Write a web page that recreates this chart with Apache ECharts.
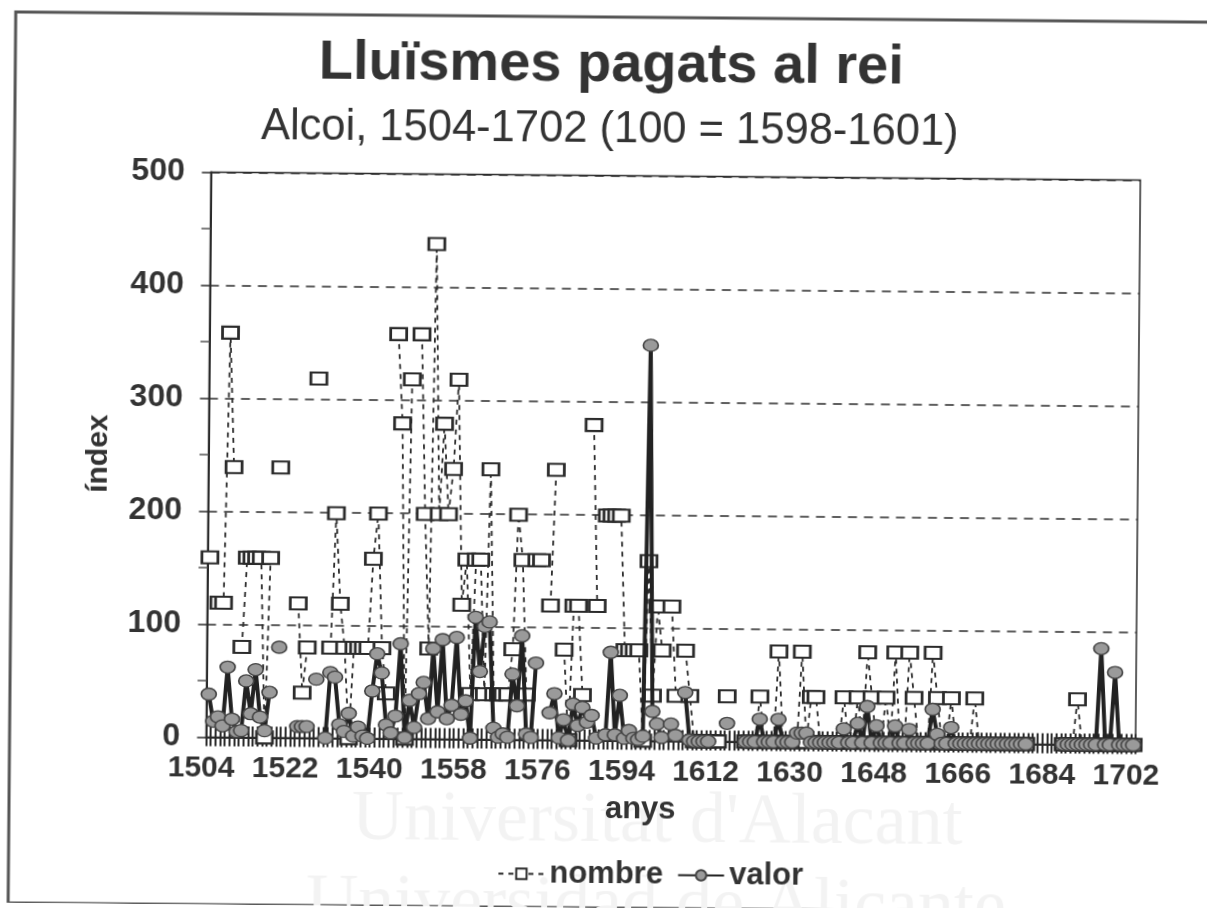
<!DOCTYPE html>
<html><head><meta charset="utf-8">
<style>html,body{margin:0;padding:0;background:#fff;overflow:hidden;width:1207px;height:908px}
#c{width:1207px;height:908px;transform:rotate(0.49deg);transform-origin:603px 454px}</style>
<script src="https://cdn.jsdelivr.net/npm/echarts@6/dist/echarts.min.js"></script>
</head><body><div id="c"></div>
<script>
const N = null;
const firstYear = 1504;
const nombre = [
 159,N,119,119,358,239,N,80,159,159,
 159,159,0,159,N,239,N,N,N,119,
 40,80,N,318,N,N,80,199,119,80,
 0,80,80,80,80,159,199,80,40,N,
 358,279,0,318,N,358,199,80,438,199,
 279,199,239,318,119,159,40,159,159,40,
 239,40,40,40,40,80,199,159,40,N,
 159,159,N,119,239,N,80,0,119,119,
 40,N,279,119,N,199,199,199,199,80,
 80,80,80,0,159,40,119,80,N,119,
 40,N,80,40,0,0,0,0,0,0,
 N,40,N,N,N,0,0,0,40,0,
 0,0,80,0,0,0,0,80,0,40,
 40,0,0,0,0,0,40,0,0,40,
 0,80,40,0,0,40,0,80,0,0,
 80,40,0,0,0,80,40,0,0,40,
 0,0,0,0,40,0,0,0,0,0,
 0,0,0,0,0,0,N,N,N,N,
 N,N,N,0,0,0,40,0,0,0,
 0,0,0,0,0,0,0,0,0];
const valor = [
 38,14,18,10,62,16,5,6,50,21,
 60,18,6,40,N,80,N,N,N,10,
 10,10,N,52,N,0,58,54,12,6,
 22,2,10,2,0,42,75,58,12,5,
 20,84,1,34,10,40,50,18,80,24,
 88,18,30,90,22,34,1,108,60,100,
 104,10,2,5,2,58,30,92,5,2,
 68,N,N,24,41,2,18,0,32,13,
 29,16,22,2,N,5,78,5,40,2,
 9,2,1,4,350,26,15,3,N,15,
 5,N,43,1,0,0,0,0,N,N,
 N,16,N,N,N,0,0,0,20,0,
 0,0,20,0,0,0,8,8,8,0,
 0,0,0,0,0,0,12,0,0,17,
 0,32,0,15,0,0,0,15,0,0,
 12,0,0,0,0,30,8,0,0,14,
 0,0,0,0,0,0,0,0,0,0,
 0,0,0,0,0,0,N,N,N,N,
 N,N,N,0,0,0,0,0,0,0,
 0,85,0,0,64,0,0,0,0];
const years = nombre.map((_, i) => String(firstYear + i));
const ink = '#2b2b2b';
const font = '"Liberation Sans", Arial, sans-serif';

const chart = echarts.init(document.getElementById('c'), null, {renderer:'canvas'});
chart.setOption({
  animation:false,
  backgroundColor:'#fff',
  title:[
    {text:'Lluïsmes pagats al rei', left:603, top:33, textAlign:'center',
     textStyle:{fontFamily:font,fontSize:56,fontWeight:'bold',color:'#333'}},
    {text:'Alcoi, 1504-1702 (100 = 1598-1601)', left:602, top:103, textAlign:'center',
     textStyle:{fontFamily:font,fontSize:43.5,fontWeight:'normal',color:'#333'}}
  ],
  legend:{
    data:['nombre','valor'], left:496, top:854, itemWidth:46, itemHeight:13, itemGap:14,
    textStyle:{fontFamily:font,fontSize:31,fontWeight:'bold',color:'#333'}
  },
  grid:{left:208.5,top:175.4,width:929.5,height:565,show:true,borderColor:ink,borderWidth:1.5,backgroundColor:'transparent'},
  xAxis:[
    {type:'category',data:years,boundaryGap:true,
     name:'anys',nameLocation:'middle',nameGap:54,
     nameTextStyle:{fontFamily:font,fontSize:31,fontWeight:'bold',color:'#333',padding:[0,60,0,0]},
     axisLine:{lineStyle:{color:ink,width:2}},
     axisTick:{show:true,interval:0,length:9,lineStyle:{color:ink,width:2}},
     axisLabel:{interval:17,margin:16,fontFamily:font,fontSize:30,fontWeight:'bold',color:'#333',padding:[0,14,0,0],hideOverlap:false},
     splitLine:{show:false}},
    {type:'category',data:years,boundaryGap:true,position:'bottom',
     axisLine:{show:false},
     axisTick:{show:true,inside:true,interval:0,length:11,lineStyle:{color:ink,width:2}},
     axisLabel:{show:false},splitLine:{show:false}}
  ],
  yAxis:{type:'value',min:0,max:500,interval:100,
    name:'índex',nameLocation:'middle',nameGap:95,
    nameTextStyle:{fontFamily:font,fontSize:30,fontWeight:'bold',color:'#333'},
    axisLine:{show:true,lineStyle:{color:ink,width:2}},
    axisTick:{show:true,length:9,lineStyle:{color:ink,width:1.5}},
    minorTick:{show:true,splitNumber:2,length:9,lineStyle:{color:'#555',width:1.5}},
    axisLabel:{margin:26,fontFamily:font,fontSize:32,fontWeight:'bold',color:'#333'},
    splitLine:{show:true,lineStyle:{color:ink,width:1.5,type:[9,7]}}
  },
  graphic:[
    {type:'rect',z:-10,shape:{x:12,y:17,width:1400,height:891},style:{fill:'none',stroke:'#555',lineWidth:3}},
    {type:'text',z:-9,left:355,top:786,style:{text:"Universitat d'Alacant",font:'72px "Liberation Serif", serif',fill:'#f3f3f3'}},
    {type:'text',z:-9,left:310,top:870,style:{text:'Universidad de Alicante',font:'72px "Liberation Serif", serif',fill:'#f3f3f3'}}
  ],
  series:[
    {name:'nombre',type:'line',data:nombre,connectNulls:false,showAllSymbol:true,
     symbol:'rect',symbolSize:[16,12],
     lineStyle:{color:ink,width:1.8,type:[5,5]},
     itemStyle:{color:'#fff',borderColor:ink,borderWidth:2.4},z:3},
    {name:'valor',type:'line',data:valor,connectNulls:false,showAllSymbol:true,
     symbol:'circle',symbolSize:[15,12],
     lineStyle:{color:'#222',width:4},
     itemStyle:{color:'#9a9a9a',borderColor:'#444',borderWidth:1.5},z:4}
  ]
});
</script></body></html>
